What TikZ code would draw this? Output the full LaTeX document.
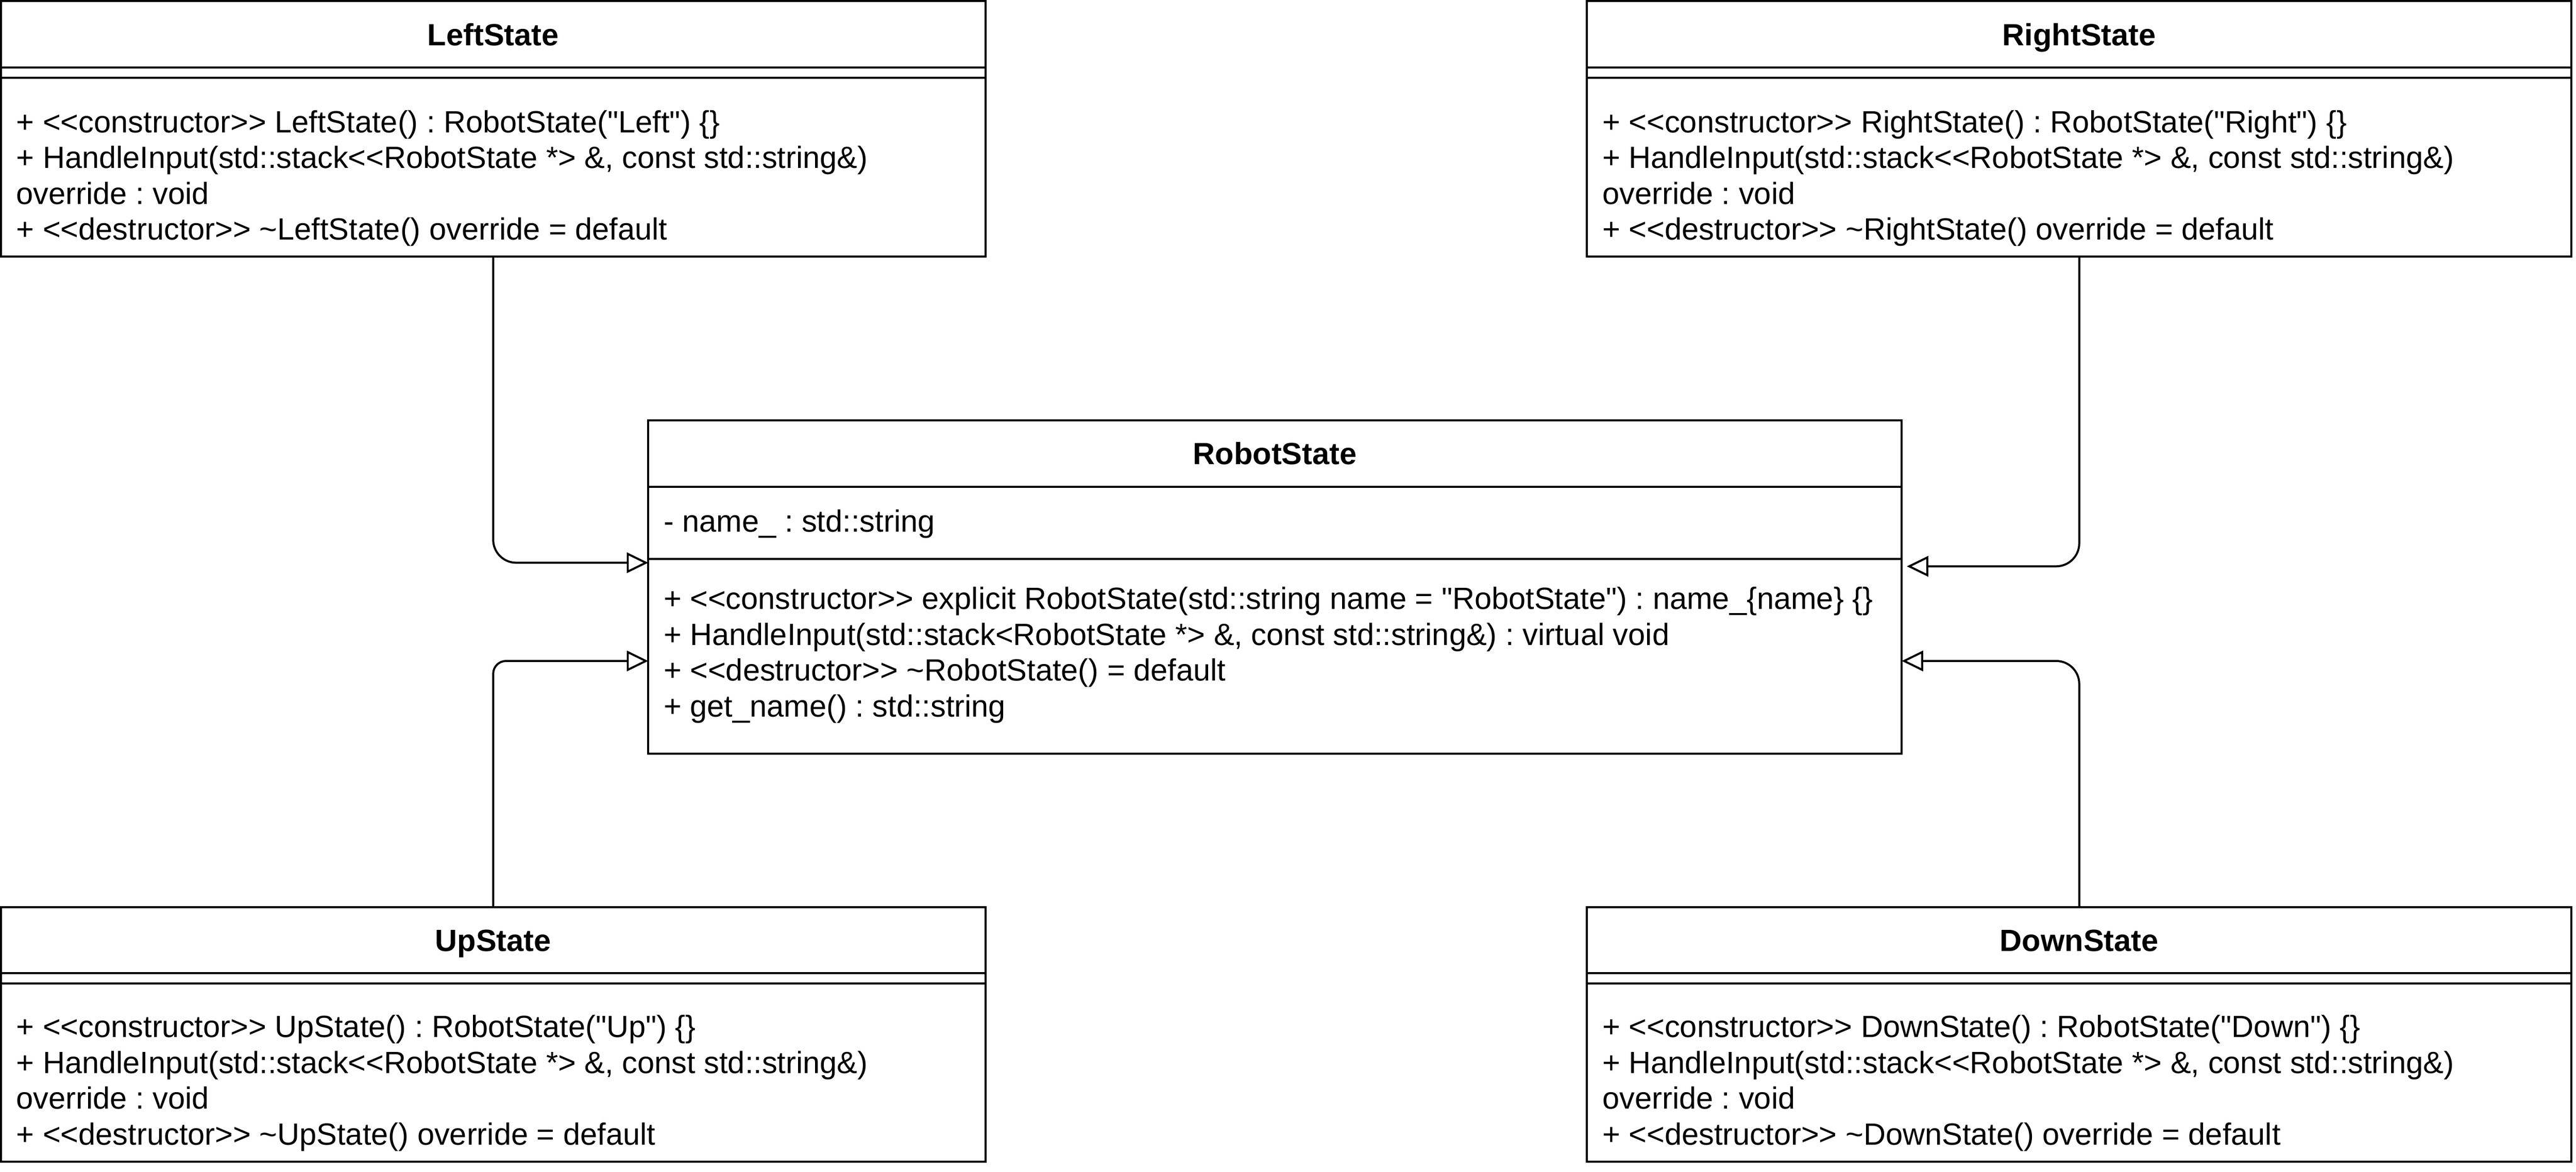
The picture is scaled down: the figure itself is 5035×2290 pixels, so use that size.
\documentclass[tikz,border=0pt]{standalone}
\usepackage{fontspec}
\newfontfamily\umlfont{Liberation Sans}
\usetikzlibrary{arrows.meta}
\frenchspacing
\begin{document}
\begin{tikzpicture}[x=0.2pt,y=-0.2pt,line width=0.8pt,
  box/.style={draw,line width=0.8pt,anchor=north west,inner sep=0pt,outer sep=0pt},
  ttl/.style={anchor=base,inner sep=0pt,font=\umlfont\bfseries\fontsize{12pt}{14pt}\selectfont\frenchspacing},
  mem/.style={anchor=base west,inner sep=0pt,font=\umlfont\fontsize{12pt}{14pt}\selectfont\frenchspacing},
  gen/.style={-{Triangle[open,length=8.4pt,width=8pt]},rounded corners=9pt,line width=0.8pt}]
\useasboundingbox (0,0) rectangle (5035,2290);

% boxes
\node[box,minimum width=1924*0.2pt,minimum height=499*0.2pt] (left) at (2,2) {};
\node[box,minimum width=1924*0.2pt,minimum height=499*0.2pt] (right) at (3102,2) {};
\node[box,minimum width=1924*0.2pt,minimum height=498*0.2pt] (up) at (2,1773) {};
\node[box,minimum width=1924*0.2pt,minimum height=498*0.2pt] (down) at (3102,1773) {};
\node[box,minimum width=2450*0.2pt,minimum height=651*0.2pt] (robot) at (1267,822) {};

% compartment lines
\draw (left.west |- 0,132) -- (left.east |- 0,132);
\draw (left.west |- 0,152) -- (left.east |- 0,152);
\draw (right.west |- 0,132) -- (right.east |- 0,132);
\draw (right.west |- 0,152) -- (right.east |- 0,152);
\draw (up.west |- 0,1902) -- (up.east |- 0,1902);
\draw (up.west |- 0,1922) -- (up.east |- 0,1922);
\draw (down.west |- 0,1902) -- (down.east |- 0,1902);
\draw (down.west |- 0,1922) -- (down.east |- 0,1922);
\draw (robot.west |- 0,952) -- (robot.east |- 0,952);
\draw (robot.west |- 0,1093) -- (robot.east |- 0,1093);

% titles
\node[ttl] (leftT) at (964,89) {LeftState};
\node[ttl] (rightT) at (4064,89) {RightState};
\node[ttl] (upT) at (964,1859) {UpState};
\node[ttl] (downT) at (4064,1859) {DownState};
\node[ttl] (robotT) at (2492,908) {RobotState};

% LeftState members
\node[mem] (l1) at (30,259) {+ <<constructor>> LeftState() : RobotState("Left") \{\}};
\node[mem] (l2) at (30,329) {+ HandleInput(std::stack<<RobotState *> \&, const std::string\&)};
\node[mem] (l3) at (30,399) {override : void};
\node[mem] (l4) at (30,469) {+ <<destructor>> \textasciitilde LeftState() override = default};

% RightState members
\node[mem] (r1) at (3130,259) {+ <<constructor>> RightState() : RobotState("Right") \{\}};
\node[mem] (r2) at (3130,329) {+ HandleInput(std::stack<<RobotState *> \&, const std::string\&)};
\node[mem] (r3) at (3130,399) {override : void};
\node[mem] (r4) at (3130,469) {+ <<destructor>> \textasciitilde RightState() override = default};

% UpState members
\node[mem] (u1) at (30,2028) {+ <<constructor>> UpState() : RobotState("Up") \{\}};
\node[mem] (u2) at (30,2098) {+ HandleInput(std::stack<<RobotState *> \&, const std::string\&)};
\node[mem] (u3) at (30,2168) {override : void};
\node[mem] (u4) at (30,2238) {+ <<destructor>> \textasciitilde UpState() override = default};

% DownState members
\node[mem] (d1) at (3130,2028) {+ <<constructor>> DownState() : RobotState("Down") \{\}};
\node[mem] (d2) at (3130,2098) {+ HandleInput(std::stack<<RobotState *> \&, const std::string\&)};
\node[mem] (d3) at (3130,2168) {override : void};
\node[mem] (d4) at (3130,2238) {+ <<destructor>> \textasciitilde DownState() override = default};

% RobotState members
\node[mem] (ra) at (1295,1040) {- name\_ : std::string};
\node[mem] (rm1) at (1295,1191) {+ <<constructor>> explicit RobotState(std::string name = "RobotState") : name\_\{name\} \{\}};
\node[mem] (rm2) at (1295,1261) {+ HandleInput(std::stack<RobotState *> \&, const std::string\&) : virtual void};
\node[mem] (rm3) at (1295,1331) {+ <<destructor>> \textasciitilde RobotState() = default};
\node[mem] (rm4) at (1295,1401) {+ get\_name() : std::string};

% generalisation connectors
\draw[gen] (left.south) |- (robot.west |- 0,1100);
\draw[gen,rounded corners=5pt] (up.north) |- (robot.west |- 0,1292);
\draw[gen,shorten >=2pt] (right.south) |- (robot.east |- 0,1107);
\draw[gen] (down.north) |- (robot.east |- 0,1292);
\end{tikzpicture}
\end{document}
